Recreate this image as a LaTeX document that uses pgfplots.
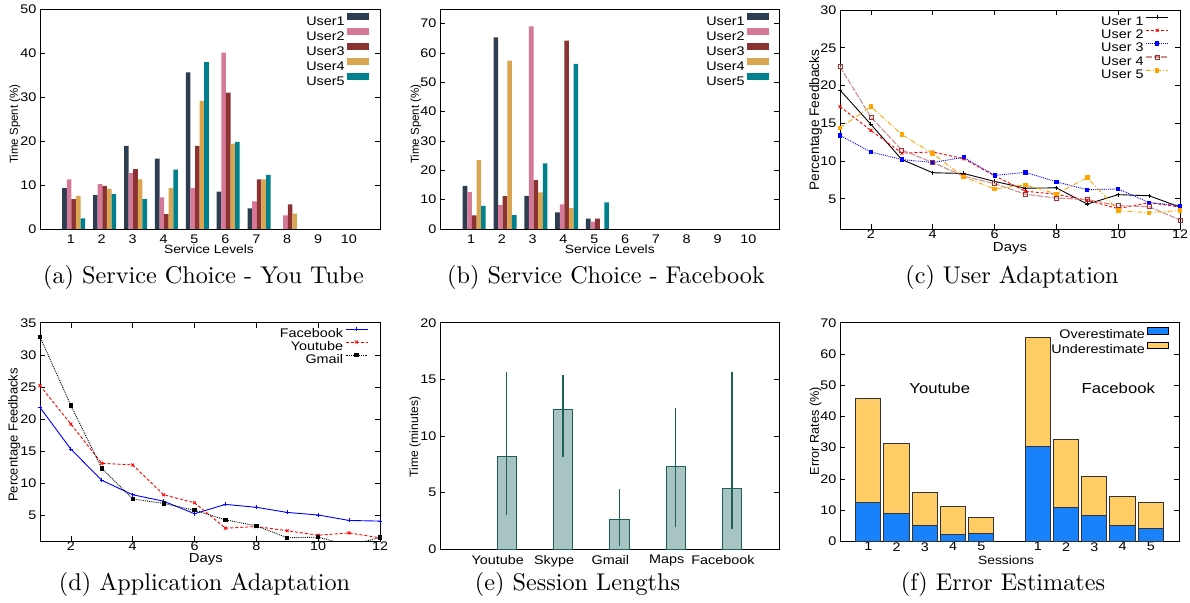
\documentclass[border=0pt]{standalone}
\usepackage{fontspec}
\usepackage{pgfplots}
\pgfplotsset{compat=1.18}
\newfontfamily\ar{Liberation Sans}[FakeStretch=1.15]
\newfontfamily\arn{Liberation Sans}
\definecolor{ua}{RGB}{44,62,80}
\definecolor{ub}{RGB}{214,120,152}
\definecolor{uc}{RGB}{139,50,50}
\definecolor{ud}{RGB}{218,165,80}
\definecolor{ue}{RGB}{0,128,140}
\definecolor{rosy}{RGB}{205,145,145}
\definecolor{rosym}{RGB}{160,50,50}
\definecolor{orng}{RGB}{255,165,0}
\definecolor{ebar}{RGB}{168,196,194}
\definecolor{eedge}{RGB}{30,95,90}
\definecolor{oblue}{RGB}{25,130,250}
\definecolor{uorange}{RGB}{255,204,102}
\pgfplotsset{
  base/.style={scale only axis, anchor=north west,
    tick label style={font=\fontsize{12.5}{13}\ar},
    xticklabel style={yshift=2.5pt},
    /pgf/number format/assume math mode=true,
    axis line style={line width=0.8pt, black},
    major tick length=5pt,
    tick style={black, line width=0.6pt},
    xlabel style={anchor=center, font=\fontsize{12}{13}\ar},
    legend style={draw=none, fill=none, anchor=north east,
      font=\fontsize{12.5}{13}\ar, row sep=3pt,
      nodes={inner ysep=0pt, inner xsep=2pt, text height=9pt, text depth=0pt}},
    legend cell align=right, legend plot pos=right,
  },
  barleg/.style={legend image code/.code={\fill[##1] (0pt,0.5pt) rectangle (22pt,7.5pt);}},
  lineleg/.style={legend image code/.code={\draw[mark repeat=2,mark phase=2,##1] plot coordinates {(0pt,4pt) (11pt,4pt) (22pt,4pt)};}},
}
\begin{document}
\begin{tikzpicture}
\path[use as bounding box] (0,0) rectangle (1190pt,-602pt);
% (a)
\begin{axis}[base, at={(40pt,-9pt)}, width=340pt, height=220pt,
  ybar=0pt, bar width=4.6pt,
  xmin=-0.09, xmax=10.91, ymin=0, ymax=50,
  xtick={1,...,10}, xtick style={draw=none}, xticklabel style={xshift=-2.9pt},
  ytick={0,10,...,50},
  xlabel={Service Levels}, xlabel style={at={(axis description cs:0.497,-0.094)}},
  ylabel={Time Spent (\%)}, ylabel style={at={(axis description cs:-0.074,0.477)}, anchor=center, font=\fontsize{11.5}{12}\arn},
  legend style={at={(0.976,0.99)}}, barleg]
\addplot[fill=ua, draw=none] coordinates {(1,9.3)(2,7.7)(3,18.9)(4,16)(5,35.6)(6,8.5)(7,4.7)};
\addplot[fill=ub, draw=none] coordinates {(1,11.3)(2,10.2)(3,12.7)(4,7.2)(5,9.3)(6,40.1)(7,6.3)(8,3.1)};
\addplot[fill=uc, draw=none] coordinates {(1,6.8)(2,9.8)(3,13.6)(4,3.4)(5,18.9)(6,31)(7,11.3)(8,5.6)};
\addplot[fill=ud, draw=none] coordinates {(1,7.5)(2,9.1)(3,11.3)(4,9.3)(5,29.1)(6,19.4)(7,11.3)(8,3.5)};
\addplot[fill=ue, draw=none] coordinates {(1,2.4)(2,7.9)(3,6.8)(4,13.5)(5,37.9)(6,19.8)(7,12.3)};
\legend{User1,User2,User3,User4,User5}
\end{axis}
% (b)
\begin{axis}[base, at={(440pt,-9pt)}, width=339pt, height=220pt,
  ybar=0pt, bar width=4.6pt,
  xmin=-0.11, xmax=10.89, ymin=0, ymax=75,
  xtick={1,...,10}, xtick style={draw=none}, xticklabel style={xshift=-3.2pt},
  ytick={0,10,...,70},
  xlabel={Service Levels}, xlabel style={at={(axis description cs:0.501,-0.094)}},
  ylabel={Time Spent (\%)}, ylabel style={at={(axis description cs:-0.071,0.477)}, anchor=center, font=\fontsize{11.5}{12}\arn},
  legend style={at={(0.979,0.99)}}, barleg]
\addplot[fill=ua, draw=none] coordinates {(1,14.7)(2,65.3)(3,11.3)(4,5.7)(5,3.5)};
\addplot[fill=ub, draw=none] coordinates {(1,12.6)(2,8.1)(3,69.1)(4,8.4)(5,2.5)};
\addplot[fill=uc, draw=none] coordinates {(1,4.6)(2,11.2)(3,16.7)(4,64.2)(5,3.5)};
\addplot[fill=ud, draw=none] coordinates {(1,23.5)(2,57.4)(3,12.5)(4,7.1)};
\addplot[fill=ue, draw=none] coordinates {(1,7.9)(2,4.7)(3,22.4)(4,56.3)(5,9.1)};
\legend{User1,User2,User3,User4,User5}
\end{axis}
% (c)
\begin{axis}[base, at={(840pt,-10pt)}, width=340pt, height=219pt,
  xmin=1, xmax=12, ymin=1, ymax=30,
  xtick={2,4,...,12}, ytick={5,10,...,30},
  xlabel={Days}, xlabel style={at={(axis description cs:0.5,-0.09)}, font=\fontsize{13}{14}\ar},
  ylabel={Percentage Feedbacks}, ylabel style={at={(axis description cs:-0.072,0.498)}, anchor=center, font=\fontsize{13.7}{14}\arn},
  legend style={at={(0.976,0.985)}}, lineleg]
\addplot[black, line width=0.9pt, mark=+, mark size=2pt] coordinates {(1,19.4)(2,14.85)(3,10.2)(4,8.45)(5,8.35)(6,7.3)(7,6.4)(8,6.45)(9,4.3)(10,5.55)(11,5.4)(12,3.9)};
\addplot[red, line width=0.9pt, densely dashed, mark=x, mark size=2pt, mark options={solid}] coordinates {(1,17.2)(2,14.05)(3,11.05)(4,11.2)(5,10.3)(6,8.05)(7,6.0)(8,5.6)(9,4.8)(10,3.7)(11,4.5)(12,3.9)};
\addplot[blue, line width=0.9pt, densely dotted, mark=square*, mark size=1.6pt, mark options={solid}] coordinates {(1,13.4)(2,11.2)(3,10.2)(4,9.8)(5,10.5)(6,8.1)(7,8.5)(8,7.25)(9,6.2)(10,6.3)(11,4.5)(12,4.1)};
\addplot[rosy, line width=1.1pt, dash pattern=on 6pt off 1.5pt, mark=square, mark size=2pt, mark options={solid, draw=rosym, line width=0.8pt}] coordinates {(1,22.5)(2,15.8)(3,11.45)(4,9.8)(5,8.0)(6,7.0)(7,5.6)(8,5.1)(9,4.9)(10,4.1)(11,3.95)(12,2.2)};
\addplot[orng, line width=0.9pt, dash pattern=on 5pt off 2pt on 1pt off 2pt, mark=square*, mark size=1.8pt, mark options={solid}] coordinates {(1,14.4)(2,17.2)(3,13.5)(4,11.0)(5,7.9)(6,6.3)(7,6.85)(8,5.65)(9,7.8)(10,3.45)(11,3.15)(12,3.45)};
\legend{User 1,User 2,User 3,User 4,User 5}
\end{axis}
% (d)
\begin{axis}[base, at={(40pt,-322.7pt)}, width=340pt, height=218.3pt,
  xmin=1, xmax=12, ymin=1, ymax=35,
  xtick={2,4,...,12}, ytick={5,10,...,35},
  xlabel={Days}, xlabel style={at={(axis description cs:0.488,-0.086)}, font=\fontsize{13}{14}\ar},
  ylabel={Percentage Feedbacks}, ylabel style={at={(axis description cs:-0.076,0.486)}, anchor=center, font=\fontsize{13}{14}\arn},
  legend style={at={(0.974,0.99)}}, lineleg]
\addplot[blue, line width=0.9pt, mark=+, mark size=2pt] coordinates {(1,21.8)(2,15.3)(3,10.45)(4,8.2)(5,7.2)(6,5.25)(7,6.7)(8,6.25)(9,5.45)(10,5.05)(11,4.2)(12,4.1)};
\addplot[red, line width=0.9pt, densely dashed, mark=x, mark size=2pt, mark options={solid}] coordinates {(1,25.2)(2,19.2)(3,13.1)(4,12.85)(5,8.2)(6,6.95)(7,3.0)(8,3.25)(9,2.6)(10,1.9)(11,2.25)(12,1.5)};
\addplot[black, line width=0.9pt, densely dotted, mark=square*, mark size=1.6pt, mark options={solid}] coordinates {(1,32.8)(2,22.1)(3,12.3)(4,7.55)(5,6.85)(6,5.8)(7,4.3)(8,3.35)(9,1.5)(10,1.6)(11,0.3)(12,1.55)};
\legend{Facebook,Youtube,Gmail}
\end{axis}
% (e)
\begin{axis}[base, at={(440pt,-322.7pt)}, width=339pt, height=226.6pt,
  ybar, bar width=19.3pt,
  xmin=-0.185, xmax=5.835, ymin=0, ymax=20,
  xtick={1,...,5}, xticklabels={Youtube,Skype,Gmail,Maps,Facebook}, xtick style={draw=none}, xticklabel style={xshift=-9pt},
  ytick={0,5,...,20},
  ylabel={Time (minutes)}, ylabel style={at={(axis description cs:-0.074,0.496)}, anchor=center, font=\fontsize{12.1}{13}\arn}]
\addplot[fill=ebar, draw=eedge, line width=1pt,
  error bars/.cd, y dir=both, y explicit,
  error bar style={eedge, line width=1.2pt},
  error mark options={eedge, mark size=1.6pt, line width=1.2pt}]
  coordinates {(1,8.2) += (0,7.3) -= (0,5.0)
               (2,12.3) += (0,2.9) -= (0,4.0)
               (3,2.6) += (0,2.6) -= (0,2.2)
               (4,7.3) += (0,5.0) -= (0,5.2)
               (5,5.4) += (0,10.1) -= (0,3.5)};
\end{axis}
% (f)
\begin{axis}[base, at={(840pt,-322.7pt)}, width=339pt, height=218.6pt,
  ybar stacked, bar width=25.3pt,
  xmin=0, xmax=12, ymin=0, ymax=70,
  xtick={1,2,3,4,5,7,8,9,10,11}, xticklabels={1,2,3,4,5,1,2,3,4,5}, xtick style={draw=none},
  ytick={0,10,...,70},
  xlabel={Sessions}, xlabel style={at={(axis description cs:0.49,-0.088)}},
  ylabel={Error Rates (\%)}, ylabel style={at={(axis description cs:-0.072,0.505)}, anchor=center, font=\fontsize{12.7}{13}\arn},
  legend style={at={(0.979,0.99)}},
  legend image code/.code={\draw[#1, draw=black, line width=0.8pt] (0pt,0.5pt) rectangle (21pt,7pt);}]
\addplot[fill=oblue, draw=black!80, line width=1pt] coordinates {(1,12.5)(2,8.9)(3,5.2)(4,2.2)(5,2.5)(7,30.5)(8,10.9)(9,8.2)(10,5.2)(11,4.1)};
\addplot[fill=uorange, draw=black!80, line width=1pt] coordinates {(1,33.2)(2,22.3)(3,10.4)(4,9.1)(5,5.0)(7,34.7)(8,21.8)(9,12.4)(10,9.0)(11,8.3)};
\legend{Overestimate,Underestimate}
\node[font=\fontsize{14.5}{15}\ar, anchor=base] at (axis cs:3.53,47.4) {Youtube};
\node[font=\fontsize{14.5}{15}\ar, anchor=base] at (axis cs:9.85,47.4) {Facebook};
\end{axis}
% captions
\begin{scope}[every node/.style={font=\fontsize{10}{12}\selectfont, scale=2.42, anchor=base, inner sep=0pt}]
\node at (203.5pt,-283.7pt) {(a) Service Choice - You Tube};
\node at (606pt,-283.7pt) {(b) Service Choice - Facebook};
\node at (1012pt,-283.7pt) {(c) User Adaptation};
\node at (204.5pt,-590.7pt) {(d) Application Adaptation};
\node at (577.5pt,-590.7pt) {(e) Session Lengths};
\node at (1003pt,-590.7pt) {(f) Error Estimates};
\end{scope}
\end{tikzpicture}
\end{document}
